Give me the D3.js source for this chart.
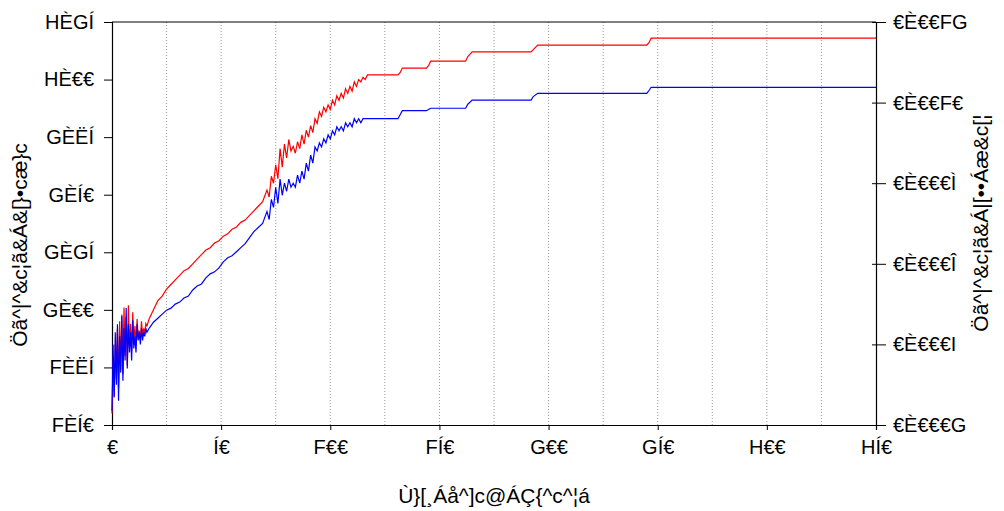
<!DOCTYPE html>
<html>
<head>
<meta charset="utf-8">
<script src="https://cdn.jsdelivr.net/npm/d3@7"></script>
<style>
body{margin:0;background:#fff;}
svg text{font-family:"Liberation Sans",Arial,sans-serif;}
</style>
</head>
<body>
<svg id="chart" width="1004" height="511"></svg>
<script>
// x values (depth) shared by both curves
const depth = [0,0.5,1,1.5,2,2.5,3,3.5,4,4.5,5,5.5,6,6.5,7,7.5,8,8.5,9,9.5,10,10.5,11,11.5,12,12.5,13,13.5,14,14.5,15,15.5,16,17,
  19,21,23,25,27,29,31,33,35,37,39,41,43,45,47,49,51,53,55,57,59,61,63,65,67,69,71,72,73,74,75,76,77,78,79,80,81,82,83,84,85,86,87,88,89,90,91,92,93,94,95,96,97,98,99,100,101,102,103,104,105,106,107,108,109,110,111,112,113,114,115,116,117,118,
  131,132,133,144,145,146,162,163,165,192,193,195,245,246,247,350];
// red: dielectric constant (left axis)
const constVals = [1.55,1.78,1.62,1.85,1.70,1.92,1.66,1.95,1.74,1.98,1.72,2.01,1.80,1.97,1.76,2.02,1.84,1.94,1.82,1.99,1.86,1.93,1.85,1.96,1.88,1.91,1.87,1.95,1.89,1.92,1.90,1.94,1.93,1.96,
  2.00,2.04,2.06,2.09,2.11,2.13,2.15,2.17,2.18,2.20,2.22,2.24,2.26,2.27,2.29,2.30,2.32,2.33,2.35,2.36,2.38,2.39,2.41,2.43,2.45,2.47,2.52,2.49,2.58,2.55,2.63,2.57,2.70,2.62,2.72,2.66,2.74,2.69,2.71,2.68,2.73,2.70,2.76,2.72,2.78,2.75,2.80,2.77,2.83,2.81,2.86,2.84,2.88,2.86,2.89,2.87,2.91,2.89,2.93,2.91,2.94,2.92,2.96,2.94,2.97,2.95,2.99,2.97,3.00,2.99,3.01,3.00,3.02,3.02,
  3.02,3.03,3.05,3.05,3.06,3.08,3.08,3.10,3.12,3.12,3.13,3.15,3.15,3.16,3.18,3.18];
// blue: loss factor (right axis)
const lossVals = [0.000235,0.00040,0.00027,0.00043,0.00030,0.00045,0.00026,0.00042,0.00033,0.00047,0.00031,0.00044,0.00036,0.00049,0.00034,0.00045,0.00038,0.00043,0.00036,0.00046,0.00039,0.00042,0.00038,0.00045,0.00041,0.00043,0.00040,0.00044,0.00041,0.00043,0.00042,0.00044,0.00043,0.00044,
  0.000455,0.000465,0.000475,0.000485,0.00049,0.00050,0.000505,0.000515,0.00052,0.000535,0.000545,0.00055,0.000565,0.000575,0.00058,0.00059,0.000605,0.000615,0.00062,0.00063,0.00064,0.00065,0.000665,0.00068,0.00069,0.00070,0.00073,0.00071,0.00076,0.00074,0.00079,0.00075,0.00081,0.00077,0.00080,0.00078,0.00081,0.00079,0.00080,0.00079,0.00082,0.00080,0.00083,0.00081,0.00085,0.00083,0.00087,0.00085,0.00089,0.00088,0.00090,0.00089,0.00091,0.00090,0.00092,0.00091,0.00093,0.00092,0.00094,0.00093,0.00094,0.00093,0.00095,0.00094,0.00095,0.00094,0.00096,0.00095,0.00096,0.00095,0.00096,0.00096,0.00096,0.00096,
  0.00096,0.00097,0.00098,0.00098,0.000983,0.000986,0.000986,0.000996,0.001006,0.001006,0.001015,0.001023,0.001023,0.00103,0.001038,0.001038];

const xTicks = [0,50,100,150,200,250,300,350];
const xTickText = ["€","Í€","F€€","FÍ€","G€€","GÍ€","H€€","HÍ€"];
const leftTicks = [1.5,1.75,2,2.25,2.5,2.75,3,3.25];
const leftTickText = ["FÈÍ€","FÈËÍ","GÈ€€","GÈGÍ","GÈÍ€","GÈËÍ","HÈ€€","HÈGÍ"];
const rightTicks = [0.0002,0.0004,0.0006,0.0008,0.0010,0.0012];
const rightTickText = ["€È€€€G","€È€€€I","€È€€€Î","€È€€€Ì","€È€€F€","€È€€FG"];
const xTitle = "Ù}[¸Áå^]c@ÁÇ{^c^¦á";
const leftTitle = "Öã^|^&c¦ã&Á&[}•cæ}c";
const rightTitle = "Öã^|^&c¦ã&Á|[••Áæ&c[¦";

const svg = d3.select("#chart");
const m = {l:112, r:876, t:22, b:425};

const x = d3.scaleLinear().domain([0,350]).range([m.l,m.r]);
const yL = d3.scaleLinear().domain([1.5,3.25]).range([m.b,m.t]);
const yR = d3.scaleLinear().domain([0.0002,0.0012]).range([m.b,m.t]);

// vertical dotted grid
svg.append("g").selectAll("line")
  .data(d3.range(25,350,25))
  .enter().append("line")
  .attr("x1",d=>x(d)).attr("x2",d=>x(d))
  .attr("y1",m.t).attr("y2",m.b)
  .attr("stroke","#999").attr("stroke-width",1)
  .attr("stroke-dasharray","1,2");

// axes
const axB = svg.append("g").attr("transform",`translate(0,${m.b})`)
  .call(d3.axisBottom(x).tickValues(xTicks).tickSize(5).tickFormat((d,i)=>xTickText[i]));
const axL = svg.append("g").attr("transform",`translate(${m.l},0)`)
  .call(d3.axisLeft(yL).tickValues(leftTicks).tickSize(8).tickPadding(10).tickFormat((d,i)=>leftTickText[i]));
const axR = svg.append("g").attr("transform",`translate(${m.r},0)`)
  .call(d3.axisRight(yR).tickValues(rightTicks).tickSize(10).tickPadding(7).tickFormat((d,i)=>rightTickText[i]));
axR.selectAll(".tick line").attr("x1",-4);
[axB,axL,axR].forEach(a=>{
  a.select(".domain").attr("stroke","#000").attr("stroke-width",1.2);
  a.selectAll(".tick line").attr("stroke","#000");
  a.selectAll("text").attr("font-size",20).attr("fill","#000");
});
axB.selectAll("text").attr("dy","1.05em");
svg.append("line").attr("x1",m.l).attr("x2",m.r).attr("y1",m.t).attr("y2",m.t)
  .attr("stroke","#000").attr("stroke-width",1.2);

// curves
const pts = depth.map((d,i)=>({x:d,c:constVals[i],l:lossVals[i]}));
svg.append("path").datum(pts)
  .attr("fill","none").attr("stroke","#ff0000").attr("stroke-width",1.2)
  .attr("d",d3.line().x(d=>x(d.x)).y(d=>yL(d.c)));
svg.append("path").datum(pts)
  .attr("fill","none").attr("stroke","#0000ff").attr("stroke-width",1.2)
  .attr("d",d3.line().x(d=>x(d.x)).y(d=>yR(d.l)));

// titles
svg.append("text").attr("x",(m.l+m.r)/2).attr("y",503)
  .attr("text-anchor","middle").attr("font-size",21).text(xTitle);
svg.append("text").attr("transform",`translate(27,245) rotate(-90)`)
  .attr("text-anchor","middle").attr("font-size",21).text(leftTitle);
svg.append("text").attr("transform",`translate(988,223) rotate(-90)`)
  .attr("text-anchor","middle").attr("font-size",21).text(rightTitle);
</script>
</body>
</html>
